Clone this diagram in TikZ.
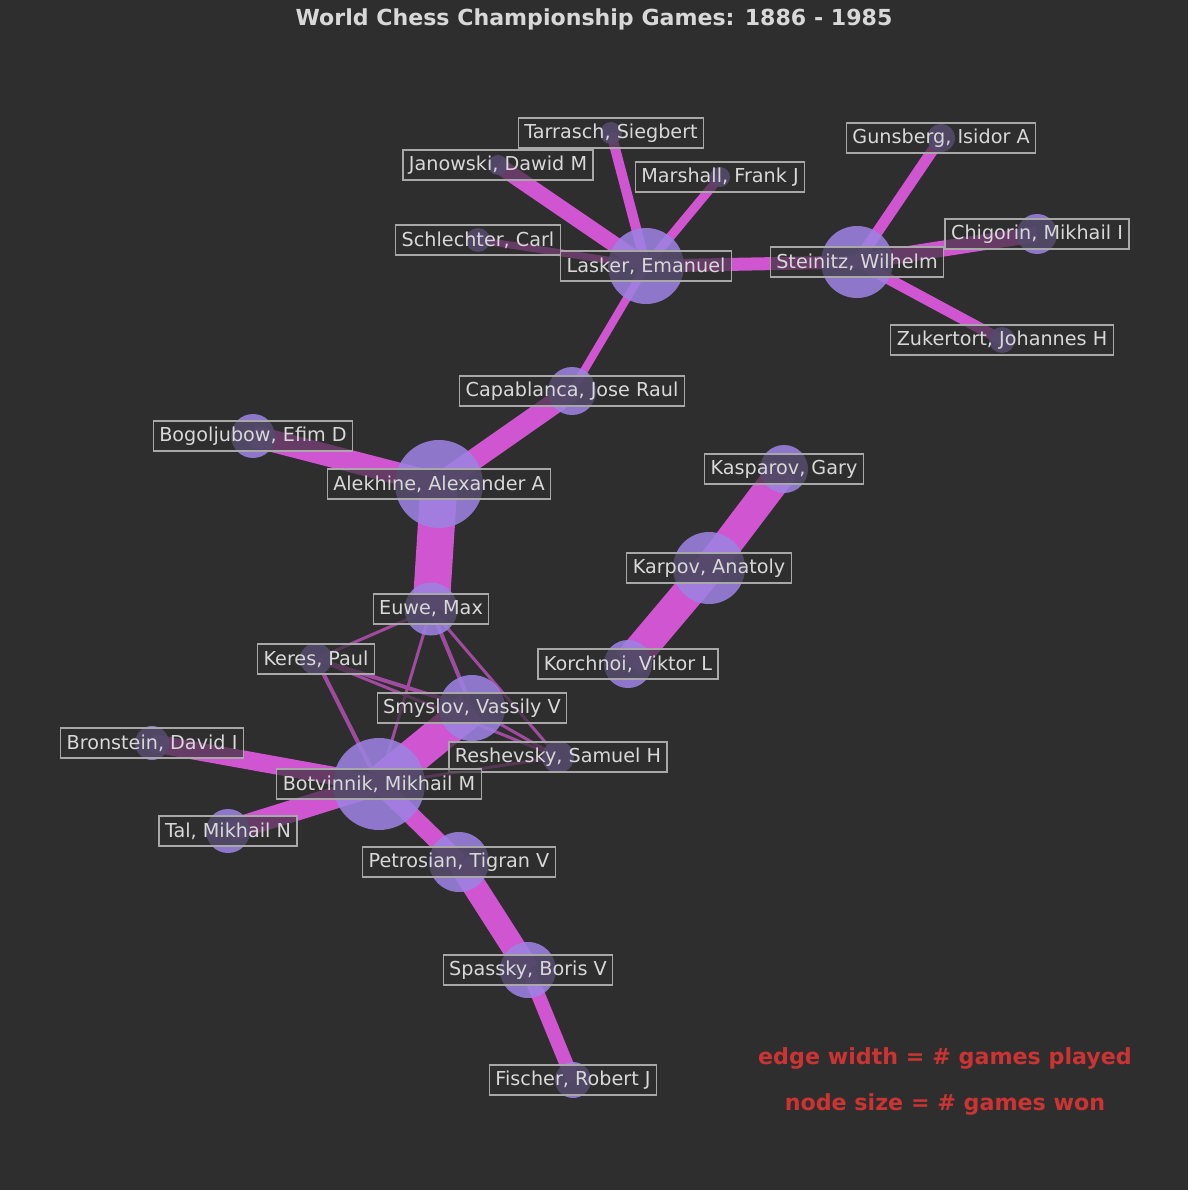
\documentclass[tikz,border=0pt]{standalone}
\usepackage{fontspec}
\setmainfont{DejaVu Sans}
\definecolor{bg}{HTML}{2E2E2E}
\definecolor{edgecol}{HTML}{D055D0}
\definecolor{thincol}{HTML}{A04AA0}
\definecolor{nodecol}{HTML}{9C82E0}
\definecolor{tagtext}{HTML}{D8D8D8}
\definecolor{tagframe}{HTML}{A8A8A8}
\definecolor{legendcol}{HTML}{CC3434}
\tikzset{
  edgeline/.style={draw=edgecol, line cap=butt, line width=#1},
  thinline/.style={draw=thincol, line cap=butt, line width=#1},
  player/.style={circle, fill=nodecol, fill opacity=0.88, draw=none, minimum size=#1, inner sep=0pt},
  tag/.style={draw=tagframe, line width=1.2pt, fill=bg, fill opacity=0.65, text opacity=1,
              text=tagtext, font=\fontsize{19.2}{19.2}\selectfont, minimum height=30pt,
              inner xsep=6pt, inner ysep=0pt},
  legend/.style={text=legendcol, font=\fontsize{22.2}{22.2}\selectfont\bfseries},
}
\begin{document}
\begin{tikzpicture}[x=1pt, y=-1pt]
\fill[bg] (0,0) rectangle (1188,1190);
\useasboundingbox (0,0) rectangle (1188,1190);

% player positions
\coordinate (tarrasch)   at (611,133);
\coordinate (janowski)   at (498,165);
\coordinate (marshall)   at (720,177);
\coordinate (schlechter) at (478,240);
\coordinate (lasker)     at (646,266);
\coordinate (gunsberg)   at (941,138);
\coordinate (chigorin)   at (1037,234);
\coordinate (steinitz)   at (857,262);
\coordinate (zukertort)  at (1002,340);
\coordinate (capablanca) at (572,391);
\coordinate (bogoljubow) at (253,436);
\coordinate (alekhine)   at (439,484);
\coordinate (euwe)       at (431,609);
\coordinate (keres)      at (316,659);
\coordinate (smyslov)    at (472,708);
\coordinate (reshevsky)  at (558,757);
\coordinate (botvinnik)  at (379,784);
\coordinate (korchnoi)   at (628,664);
\coordinate (bronstein)  at (152,743);
\coordinate (tal)        at (228,831);
\coordinate (kasparov)   at (784,469);
\coordinate (karpov)     at (709,568);
\coordinate (petrosian)  at (459,862);
\coordinate (spassky)    at (528,970);
\coordinate (fischer)    at (573,1080);

% games played
\draw[edgeline=10pt] (lasker) -- (tarrasch);
\draw[edgeline=16pt] (lasker) -- (janowski);
\draw[edgeline=9pt]  (lasker) -- (marshall);
\draw[edgeline=7pt]  (lasker) -- (schlechter);
\draw[edgeline=13pt] (lasker) -- (steinitz);
\draw[edgeline=11pt] (steinitz) -- (gunsberg);
\draw[edgeline=16pt] (steinitz) -- (chigorin);
\draw[edgeline=11pt] (steinitz) -- (zukertort);
\draw[edgeline=8pt]  (lasker) -- (capablanca);
\draw[edgeline=21pt] (capablanca) -- (alekhine);
\draw[edgeline=22pt] (alekhine) -- (bogoljubow);
\draw[edgeline=37pt] (alekhine) -- (euwe);
\draw[thinline=3pt]  (euwe) -- (keres);
\draw[thinline=4pt]  (euwe) -- (smyslov);
\draw[thinline=3pt]  (euwe) -- (reshevsky);
\draw[thinline=3pt]  (euwe) -- (botvinnik);
\draw[thinline=4pt]  (keres) -- (smyslov);
\draw[thinline=3pt]  (keres) -- (reshevsky);
\draw[thinline=4pt]  (keres) -- (botvinnik);
\draw[thinline=3pt]  (smyslov) -- (reshevsky);
\draw[thinline=3pt]  (reshevsky) -- (botvinnik);
\draw[edgeline=35pt] (smyslov) -- (botvinnik);
\draw[edgeline=18pt] (botvinnik) -- (bronstein);
\draw[edgeline=22pt] (botvinnik) -- (tal);
\draw[edgeline=18pt] (botvinnik) -- (petrosian);
\draw[edgeline=24pt] (petrosian) -- (spassky);
\draw[edgeline=14pt] (spassky) -- (fischer);
\draw[edgeline=30pt] (karpov) -- (kasparov);
\draw[edgeline=32pt] (karpov) -- (korchnoi);

% games won
\node[player=22pt] (tarrasch-c)   at (tarrasch)   {};
\node[player=20pt] (janowski-c)   at (janowski)   {};
\node[player=20pt] (marshall-c)   at (marshall)   {};
\node[player=24pt] (schlechter-c) at (schlechter) {};
\node[player=76pt] (lasker-c)     at (lasker)     {};
\node[player=28pt] (gunsberg-c)   at (gunsberg)   {};
\node[player=40pt] (chigorin-c)   at (chigorin)   {};
\node[player=72pt] (steinitz-c)   at (steinitz)   {};
\node[player=26pt] (zukertort-c)  at (zukertort)  {};
\node[player=48pt] (capablanca-c) at (capablanca) {};
\node[player=44pt] (bogoljubow-c) at (bogoljubow) {};
\node[player=88pt] (alekhine-c)   at (alekhine)   {};
\node[player=53pt] (euwe-c)       at (euwe)       {};
\node[player=32pt] (keres-c)      at (keres)      {};
\node[player=66pt] (smyslov-c)    at (smyslov)    {};
\node[player=32pt] (reshevsky-c)  at (reshevsky)  {};
\node[player=92pt] (botvinnik-c)  at (botvinnik)  {};
\node[player=48pt] (korchnoi-c)   at (korchnoi)   {};
\node[player=34pt] (bronstein-c)  at (bronstein)  {};
\node[player=44pt] (tal-c)        at (tal)        {};
\node[player=48pt] (kasparov-c)   at (kasparov)   {};
\node[player=72pt] (karpov-c)     at (karpov)     {};
\node[player=60pt] (petrosian-c)  at (petrosian)  {};
\node[player=56pt] (spassky-c)    at (spassky)    {};
\node[player=36pt] (fischer-c)    at (fischer)    {};

% names
\node[tag] (tarrasch-l)   at (tarrasch)   {Tarrasch, Siegbert};
\node[tag] (janowski-l)   at (janowski)   {Janowski, Dawid M};
\node[tag] (marshall-l)   at (marshall)   {Marshall, Frank J};
\node[tag] (schlechter-l) at (schlechter) {Schlechter, Carl};
\node[tag] (lasker-l)     at (lasker)     {Lasker, Emanuel};
\node[tag] (gunsberg-l)   at (gunsberg)   {Gunsberg, Isidor A};
\node[tag] (chigorin-l)   at (chigorin)   {Chigorin, Mikhail I};
\node[tag] (steinitz-l)   at (steinitz)   {Steinitz, Wilhelm};
\node[tag] (zukertort-l)  at (zukertort)  {Zukertort, Johannes H};
\node[tag] (capablanca-l) at (capablanca) {Capablanca, Jose Raul};
\node[tag] (bogoljubow-l) at (bogoljubow) {Bogoljubow, Efim D};
\node[tag] (alekhine-l)   at (alekhine)   {Alekhine, Alexander A};
\node[tag] (euwe-l)       at (euwe)       {Euwe, Max};
\node[tag] (keres-l)      at (keres)      {Keres, Paul};
\node[tag] (smyslov-l)    at (smyslov)    {Smyslov, Vassily V};
\node[tag] (reshevsky-l)  at (reshevsky)  {Reshevsky, Samuel H};
\node[tag] (botvinnik-l)  at (botvinnik)  {Botvinnik, Mikhail M};
\node[tag] (korchnoi-l)   at (korchnoi)   {Korchnoi, Viktor L};
\node[tag] (bronstein-l)  at (bronstein)  {Bronstein, David I};
\node[tag] (tal-l)        at (tal)        {Tal, Mikhail N};
\node[tag] (kasparov-l)   at (kasparov)   {Kasparov, Gary};
\node[tag] (karpov-l)     at (karpov)     {Karpov, Anatoly};
\node[tag] (petrosian-l)  at (petrosian)  {Petrosian, Tigran V};
\node[tag] (spassky-l)    at (spassky)    {Spassky, Boris V};
\node[tag] (fischer-l)    at (fischer)    {Fischer, Robert J};

% title and key
\node[text=tagtext, font=\fontsize{22.1}{22.1}\selectfont\bfseries] (title) at (594,19)
  {World Chess Championship Games: 1886 - 1985};
\node[legend] (key-edge) at (945,1058) {edge width = \# games played};
\node[legend] (key-node) at (945,1104) {node size = \# games won};
\end{tikzpicture}
\end{document}
